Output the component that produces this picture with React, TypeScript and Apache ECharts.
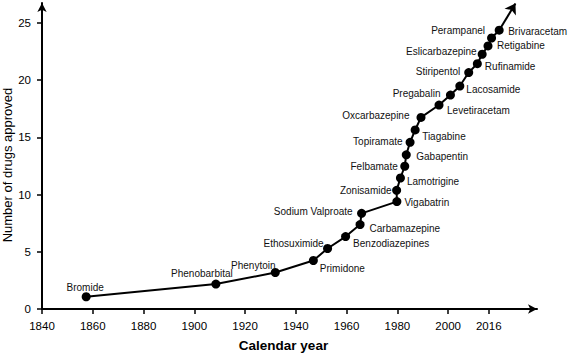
import React, { useEffect, useRef } from "react";
import * as echarts from "echarts";

// Drug names in order of approval
const drugs = [
  "Bromide", "Phenobarbital", "Phenytoin", "Primidone", "Ethosuximide",
  "Benzodiazepines", "Carbamazepine", "Sodium Valproate", "Vigabatrin", "Zonisamide",
  "Lamotrigine", "Felbamate", "Gabapentin", "Topiramate", "Tiagabine",
  "Oxcarbazepine", "Levetiracetam", "Pregabalin", "Lacosamide", "Stiripentol",
  "Rufinamide", "Eslicarbazepine", "Retigabine", "Perampanel", "Brivaracetam",
];
// Calendar year as placed in the figure
const years = [
  1857.4, 1908.5, 1931.9, 1946.9, 1952.5,
  1959.6, 1965.3, 1965.9, 1979.8, 1979.7,
  1981.2, 1982.9, 1983.5, 1985.0, 1987.0,
  1989.3, 1996.4, 2000.9, 2004.6, 2008.1,
  2011.5, 2013.4, 2015.7, 2017.1, 2020.1,
];
// Number of drugs approved (cumulative) as placed in the figure
const counts = [
  1.07, 2.18, 3.19, 4.24, 5.29,
  6.33, 7.38, 8.36, 9.39, 10.37,
  11.45, 12.48, 13.48, 14.57, 15.65,
  16.75, 17.83, 18.70, 19.49, 20.67,
  21.45, 22.27, 23.0, 23.69, 24.37,
];
// Trend arrow tip
const arrowTip = [2026.5, 26.7];

const xTicks = [1840, 1860, 1880, 1900, 1920, 1940, 1960, 1980, 2000, 2016];
const xTitle = "Calendar year";
const yTitle = "Number of drugs approved";

// Label placement (styling): [align, dx, dy] relative to the marker centre
const labelPlacement: Record<string, [string, number, number]> = {
  Bromide: ["center", -1, -9.5],
  Phenobarbital: ["center", -14, -10.5],
  Phenytoin: ["center", -22, -7.5],
  Primidone: ["left", 6.5, 8.5],
  Ethosuximide: ["right", -4, -4.5],
  Benzodiazepines: ["left", 7.5, 7],
  Carbamazepine: ["left", 9.5, 3.5],
  "Sodium Valproate": ["right", -9, -1.5],
  Vigabatrin: ["left", 7.5, 0.5],
  Zonisamide: ["right", -5, 0],
  Lamotrigine: ["left", 6.5, 3.5],
  Felbamate: ["right", -7, 0],
  Gabapentin: ["left", 10, 1.5],
  Topiramate: ["right", -7.5, -1],
  Tiagabine: ["left", 7, 7],
  Oxcarbazepine: ["right", -11.5, -1.5],
  Levetiracetam: ["left", 8, 5.5],
  Pregabalin: ["right", -10, -1.5],
  Lacosamide: ["left", 6.5, 3],
  Stiripentol: ["right", -8.5, -1.5],
  Rufinamide: ["left", 7.5, 3],
  Eslicarbazepine: ["right", -5.5, -2.5],
  Retigabine: ["left", 9, 0],
  Perampanel: ["right", -6.5, -8],
  Brivaracetam: ["left", 9, 1],
};

const SANS = "'Liberation Sans', Arial, sans-serif";

export default function App() {
  const ref = useRef<HTMLDivElement>(null);
  useEffect(() => {
    if (!ref.current) return;
    const chart = echarts.init(ref.current, undefined, { renderer: "svg" });
    const data = drugs.map((name, i) => {
      const p = labelPlacement[name];
      return {
        name,
        value: [years[i], counts[i]],
        label: {
          show: true,
          position: "inside",
          align: p[0],
          verticalAlign: "middle",
          offset: [p[1], p[2]],
        },
      };
    });
    chart.setOption({
      animation: false,
      backgroundColor: "#ffffff",
      grid: { left: 42, right: 38, top: 3, bottom: 51, containLabel: false, outerBoundsMode: "none" },
      graphic: [
        {
          type: "text",
          x: 7,
          y: 165,
          rotation: Math.PI / 2,
          style: {
            text: yTitle,
            fontFamily: SANS,
            fontSize: 13,
            fill: "#000",
            align: "center",
            verticalAlign: "middle",
          },
        },
      ],
      xAxis: {
        type: "value",
        min: 1840,
        max: 2035,
        name: xTitle,
        nameLocation: "middle",
        nameGap: 29,
        nameTextStyle: { fontFamily: SANS, fontSize: 13.5, fontWeight: "bold", color: "#000", padding: [0, 12, 0, 0] },
        axisLine: { show: true, symbol: ["none", "arrow"], symbolSize: [7, 9], lineStyle: { color: "#000", width: 2 } },
        axisTick: { show: true, inside: false, length: 5, customValues: xTicks, lineStyle: { color: "#000", width: 1.5 } },
        axisLabel: {
          customValues: xTicks,
          margin: 11,
          fontFamily: SANS,
          fontSize: 11.5,
          color: "#000",
          formatter: (v: number) => String(v),
        },
        splitLine: { show: false },
      },
      yAxis: {
        type: "value",
        min: 0,
        max: 26.75,
        interval: 5,
        axisLine: { show: true, symbol: ["none", "arrow"], symbolSize: [7, 9], lineStyle: { color: "#000", width: 2 } },
        axisTick: { show: true, inside: false, length: 5, lineStyle: { color: "#000", width: 1.5 } },
        axisLabel: { margin: 11, fontFamily: SANS, fontSize: 11.5, color: "#000", showMaxLabel: false },
        splitLine: { show: false },
      },
      series: [
        {
          type: "line",
          data,
          symbol: "circle",
          symbolSize: 9,
          itemStyle: { color: "#000" },
          lineStyle: { color: "#000", width: 2 },
          label: { fontFamily: SANS, fontSize: 10, color: "#111", formatter: "{b}" },
          markLine: {
            silent: true,
            symbol: ["none", "arrow"],
            symbolSize: 10,
            label: { show: false },
            lineStyle: { color: "#000", width: 2, type: "solid" },
            data: [[
              { coord: [years[years.length - 1], counts[counts.length - 1]] },
              { coord: arrowTip },
            ]],
          },
        },
      ],
    });
    return () => chart.dispose();
  }, []);
  return <div ref={ref} style={{ position: "fixed", left: 0, top: 0, width: 575, height: 360 }} />;
}
